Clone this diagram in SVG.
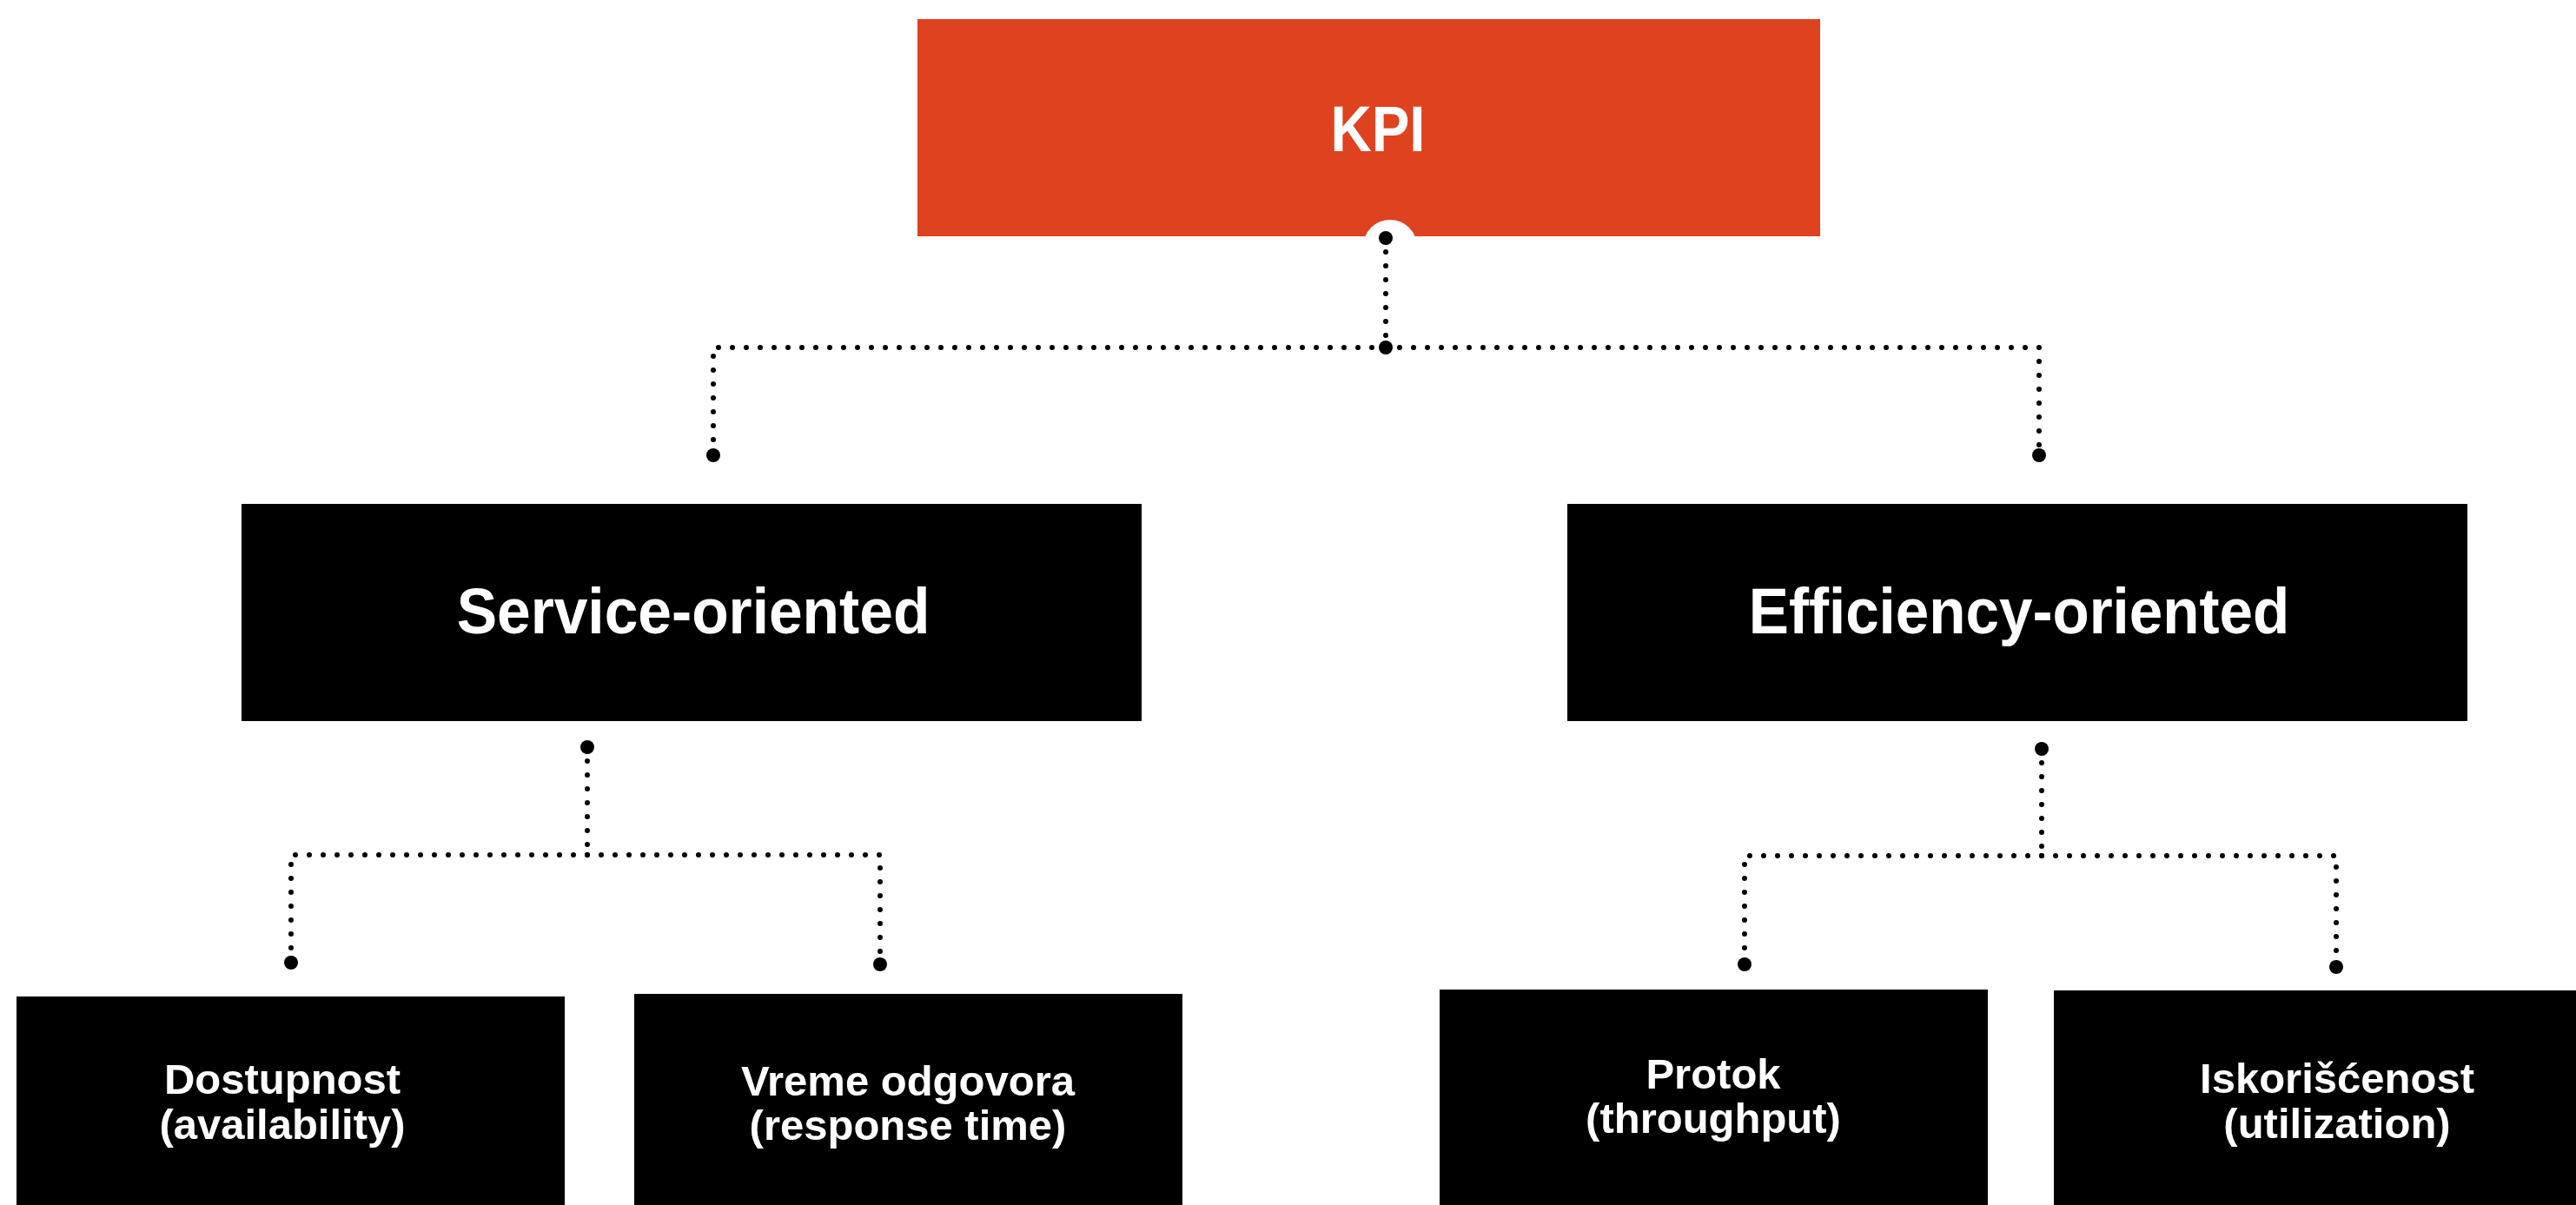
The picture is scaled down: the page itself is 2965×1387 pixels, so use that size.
<svg xmlns="http://www.w3.org/2000/svg" width="2965" height="1387" viewBox="0 0 2965 1387">
<style>
.box{fill:#000}
.kpi{fill:#DF421E}
.t{fill:#fff;font-family:"Liberation Sans",Arial,sans-serif;font-weight:bold;text-anchor:middle}
.t1{font-size:75px}
.t2{font-size:75px}
.t3{font-size:49px}
.dl{fill:none;stroke:#000;stroke-width:6;stroke-linecap:round;stroke-dasharray:0 16}
.bd{fill:#000}
</style>
<rect width="2965" height="1387" fill="#fff"/>
<g id="kpi">
<rect class="kpi" x="1056" y="22" width="1039" height="250"/>
<circle cx="1600" cy="284" r="31" fill="#fff"/>
<text class="t t1" transform="translate(1586 174) scale(0.872 1)">KPI</text>
</g>
<g id="service">
<rect class="box" x="278" y="580" width="1036" height="250"/>
<text class="t t2" transform="translate(798 729) scale(0.927 1)">Service-oriented</text>
</g>
<g id="efficiency">
<rect class="box" x="1804" y="580" width="1036" height="250"/>
<text class="t t2" transform="translate(2324 729) scale(0.922 1)">Efficiency-oriented</text>
</g>
<g id="dostupnost">
<rect class="box" x="19" y="1147" width="631" height="250"/>
<text class="t t3" x="325" y="1259">Dostupnost</text>
<text class="t t3" x="325" y="1311">(availability)</text>
</g>
<g id="vreme">
<rect class="box" x="730" y="1144" width="631" height="250"/>
<text class="t t3" x="1045" y="1261">Vreme odgovora</text>
<text class="t t3" x="1045" y="1312">(response time)</text>
</g>
<g id="protok">
<rect class="box" x="1657" y="1139" width="631" height="250"/>
<text class="t t3" x="1972" y="1253">Protok</text>
<text class="t t3" x="1972" y="1304">(throughput)</text>
</g>
<g id="iskoriscenost">
<rect class="box" x="2364" y="1140" width="631" height="250"/>
<text class="t t3" x="2690" y="1258">Iskorišćenost</text>
<text class="t t3" x="2690" y="1310">(utilization)</text>
</g>
<g id="connectors">
<path class="dl" d="M1595 274 V400"/>
<path class="dl" d="M1595 400 H821 V524"/>
<path class="dl" d="M1595 400 H2347 V524"/>
<circle class="bd" cx="1595" cy="274" r="8"/>
<circle class="bd" cx="1595" cy="400" r="8"/>
<circle class="bd" cx="821" cy="524" r="8"/>
<circle class="bd" cx="2347" cy="524" r="8"/>
<path class="dl" d="M676 860 V984"/>
<path class="dl" d="M676 984 H335 V1108"/>
<path class="dl" d="M676 984 H1013 V1110"/>
<circle class="bd" cx="676" cy="860" r="8"/>
<circle class="bd" cx="335" cy="1108" r="8"/>
<circle class="bd" cx="1013" cy="1110" r="8"/>
<path class="dl" d="M2350 862 V985"/>
<path class="dl" d="M2350 985 H2008 V1110"/>
<path class="dl" d="M2350 985 H2689 V1113"/>
<circle class="bd" cx="2350" cy="862" r="8"/>
<circle class="bd" cx="2008" cy="1110" r="8"/>
<circle class="bd" cx="2689" cy="1113" r="8"/>
</g>
</svg>
